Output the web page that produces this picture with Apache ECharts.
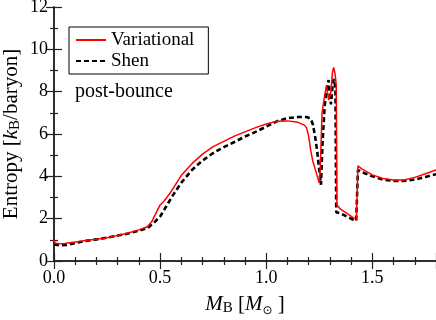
<!DOCTYPE html>
<html>
<head>
<meta charset="utf-8">
<script src="https://cdn.jsdelivr.net/npm/echarts@6/dist/echarts.min.js"></script>
<style>
  html, body { margin: 0; padding: 0; background: #fff; }
  #chart { width: 436px; height: 320px; }
</style>
</head>
<body>
<div id="chart"></div>
<script>
// entropy profile after bounce, [M_B, S]
var variational = [
  [0, 1.0], [0.005, 0.85], [0.02, 0.82], [0.05, 0.83], [0.1, 0.9], [0.15, 0.97],
  [0.2, 1.03], [0.25, 1.1], [0.3, 1.2], [0.35, 1.32], [0.4, 1.47], [0.44, 1.62],
  [0.46, 1.85], [0.48, 2.25], [0.5, 2.65], [0.52, 2.85], [0.55, 3.25], [0.6, 4.05],
  [0.65, 4.6], [0.7, 5.05], [0.75, 5.4], [0.8, 5.65], [0.85, 5.9], [0.9, 6.1],
  [0.95, 6.3], [1.0, 6.47], [1.05, 6.6], [1.1, 6.62], [1.15, 6.55], [1.18, 6.42],
  [1.19, 6.3], [1.2, 5.9], [1.21, 5.2], [1.22, 4.7], [1.235, 4.2], [1.25, 3.68],
  [1.255, 4.5], [1.263, 7.0], [1.275, 7.8], [1.284, 8.3], [1.294, 7.6], [1.305, 8.0],
  [1.312, 8.9], [1.318, 9.15], [1.325, 8.8], [1.33, 8.3], [1.333, 2.65], [1.35, 2.45],
  [1.38, 2.25], [1.41, 2.05], [1.425, 1.98], [1.432, 4.5], [1.45, 4.35], [1.5, 4.07],
  [1.55, 3.9], [1.6, 3.83], [1.65, 3.83], [1.7, 3.95], [1.75, 4.12], [1.8, 4.3]
];
var shen = [
  [0, 0.78], [0.03, 0.74], [0.06, 0.76], [0.1, 0.85], [0.15, 0.95], [0.2, 1.02],
  [0.25, 1.1], [0.3, 1.2], [0.35, 1.3], [0.4, 1.43], [0.44, 1.55], [0.47, 1.8],
  [0.5, 2.1], [0.53, 2.6], [0.56, 3.1], [0.6, 3.7], [0.65, 4.3], [0.7, 4.75],
  [0.75, 5.1], [0.8, 5.38], [0.85, 5.62], [0.9, 5.88], [0.95, 6.1], [1.0, 6.35],
  [1.05, 6.6], [1.1, 6.75], [1.15, 6.8], [1.19, 6.8], [1.21, 6.72], [1.22, 6.45],
  [1.23, 5.9], [1.24, 5.2], [1.25, 4.3], [1.258, 3.6], [1.265, 5.5], [1.275, 7.3],
  [1.285, 8.1], [1.294, 8.55], [1.3, 7.8], [1.305, 7.4], [1.312, 8.2], [1.318, 8.6],
  [1.326, 8.2], [1.33, 2.3], [1.35, 2.25], [1.38, 2.1], [1.41, 1.95], [1.424, 1.9],
  [1.432, 4.3], [1.45, 4.2], [1.5, 4.0], [1.55, 3.85], [1.6, 3.78], [1.65, 3.78],
  [1.7, 3.85], [1.75, 3.97], [1.8, 4.1]
];
var seriesNames = ["Variational", "Shen"];

var font = "Liberation Serif";
var axisColor = "#222";

function frameAxis(extra) {
  var base = {
    type: "value",
    axisLine: { show: true, lineStyle: { color: axisColor, width: 1.5 } },
    axisTick: { show: true, inside: true, length: 8, lineStyle: { color: axisColor, width: 1.2 } },
    minorTick: { show: true, length: 4, lineStyle: { color: axisColor, width: 1.2 } },
    splitLine: { show: false },
    axisLabel: { show: false }
  };
  return Object.assign(base, extra);
}

var chart = echarts.init(document.getElementById("chart"));
chart.setOption({
  animation: false,
  textStyle: { fontFamily: font, color: "#000" },
  grid: { left: 54, right: 0, top: 7, bottom: 59, containLabel: false, outerBoundsMode: "none" },
  legend: {
    orient: "vertical",
    left: 69,
    top: 27,
    data: seriesNames,
    borderColor: "#000",
    borderWidth: 1,
    borderRadius: 0,
    padding: [3, 14, 3, 6],
    itemGap: 1,
    itemWidth: 30,
    itemHeight: 12,
    itemStyle: { opacity: 0 },
    textStyle: { fontFamily: font, fontSize: 19, color: "#000", lineHeight: 20 }
  },
  graphic: [{
    type: "text",
    left: 75,
    top: 82,
    style: { text: "post-bounce", font: "20px 'Liberation Serif', serif", fill: "#000" }
  }],
  xAxis: [
    frameAxis({
      min: 0, max: 1.8, interval: 0.5,
      minorTick: { show: true, splitNumber: 5, length: 4, lineStyle: { color: axisColor, width: 1.2 } },
      axisLabel: {
        show: true, fontFamily: font, fontSize: 18, color: "#000", margin: 8,
        showMaxLabel: false,
        formatter: function (v) { return v.toFixed(1); }
      },
      name: "{i|M}{s|B}{n| [}{i|M}{sun|⊙}{n| ]}",
      nameLocation: "middle",
      nameGap: 31,
      nameTextStyle: {
        rich: {
          n: { fontFamily: font, fontSize: 21, color: "#000", lineHeight: 24 },
          i: { fontFamily: font, fontSize: 21, fontStyle: "italic", color: "#000", lineHeight: 24 },
          s: { fontFamily: font, fontSize: 15, color: "#000", verticalAlign: "top", padding: [9, 0, 0, 0] },
          sun: { fontFamily: "DejaVu Sans", fontSize: 12, color: "#000", verticalAlign: "top", padding: [13, 0, 0, 0] }
        }
      }
    }),
    frameAxis({
      position: "top", min: 0, max: 1.8, interval: 0.5,
      minorTick: { show: true, splitNumber: 5, length: 4, lineStyle: { color: axisColor, width: 1.2 } }
    })
  ],
  yAxis: [
    frameAxis({
      min: 0, max: 12, interval: 2,
      minorTick: { show: true, splitNumber: 2, length: 4, lineStyle: { color: axisColor, width: 1.2 } },
      axisLabel: { show: true, fontFamily: font, fontSize: 18, color: "#000", margin: 6 },
      name: "{n|Entropy [}{i|k}{s|B}{n|/baryon]}",
      nameLocation: "middle",
      nameGap: 31,
      nameMoveOverlap: false,
      nameTextStyle: {
        rich: {
          n: { fontFamily: font, fontSize: 21, color: "#000", lineHeight: 24 },
          i: { fontFamily: font, fontSize: 21, fontStyle: "italic", color: "#000", lineHeight: 24 },
          s: { fontFamily: font, fontSize: 15, color: "#000", verticalAlign: "top", padding: [9, 0, 0, 0] }
        }
      }
    }),
    frameAxis({
      position: "right", min: 0, max: 12, interval: 2,
      minorTick: { show: true, splitNumber: 2, length: 4, lineStyle: { color: axisColor, width: 1.2 } }
    })
  ],
  series: [
    {
      name: seriesNames[1],
      type: "line",
      data: shen,
      symbol: "none",
      color: "#000",
      lineStyle: { color: "#000", width: 2.6, type: [5, 3] },
      z: 2
    },
    {
      name: seriesNames[0],
      type: "line",
      data: variational,
      symbol: "none",
      color: "#f00",
      lineStyle: { color: "#f00", width: 1.5 },
      z: 3
    }
  ]
});
</script>
</body>
</html>
